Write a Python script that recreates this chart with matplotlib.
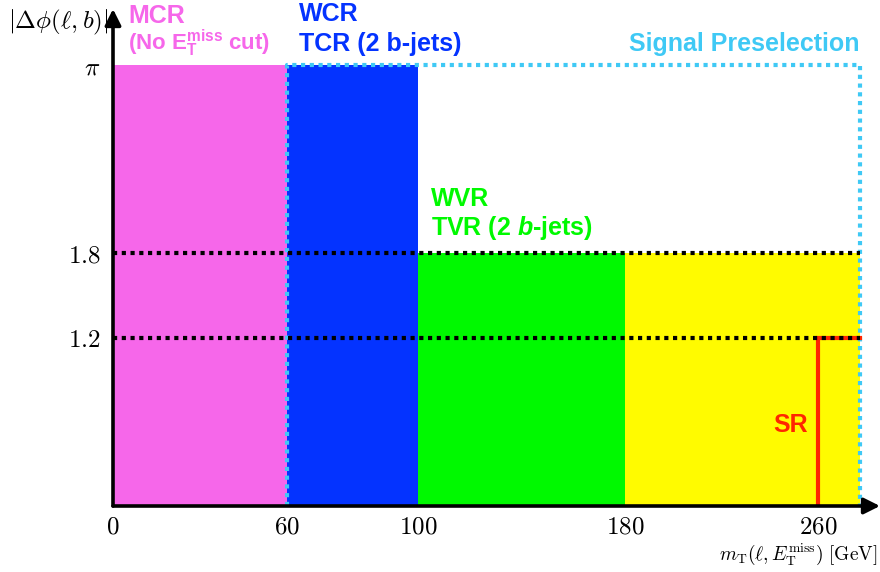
import numpy as np
import matplotlib
matplotlib.use("Agg")
import matplotlib.pyplot as plt

plt.rcParams['mathtext.fontset'] = 'cm'
plt.rcParams['mathtext.rm'] = 'Liberation Sans:bold'
plt.rcParams['mathtext.it'] = 'Liberation Sans:italic:bold'
plt.rcParams['mathtext.bf'] = 'Liberation Sans:bold'

# region boundaries in m_T [GeV] and |dphi| cut values
region_left = [0, 60, 100, 180]
region_right = [60, 100, 180, 277]
region_top = [np.pi, np.pi, 1.8, 1.8]
region_colors = ['#F667EA', '#0433FF', '#00F900', '#FFFB00']

x_ticks = [0, 60, 100, 180, 260]
x_ticklabels = ['$0$', '$60$', '$100$', '$180$', '$260$']
y_ticks = [1.2, 1.8, np.pi]
y_ticklabels = ['$1.2$', '$1.8$', r'$\pi$']

dphi_cuts = [1.2, 1.8]
sr_mt = 260
presel_mt = [60, 277]
x_max = 285
y_max = 3.54

# schematic (non-linear) x axis
knots = [-100, 0, 60, 100, 180, 260, 285, 500]
scaled = [-290, 0, 174, 305, 512, 705, 767, 1300]


def fwd(x):
    return np.interp(x, knots, scaled)


def inv(x):
    return np.interp(x, scaled, knots)


W, H = 880, 572
fig = plt.figure(figsize=(8.8, 5.72), dpi=100)
ax = fig.add_axes([113 / W, (H - 506) / H, (880 - 113) / W, (506 - 9) / H])
ax.set_xscale('function', functions=(fwd, inv))
ax.set_xlim(0, x_max)
ax.set_ylim(0, y_max)

for l, r, t, c in zip(region_left, region_right, region_top, region_colors):
    ax.bar(l, t, width=r - l, align='edge', color=c, linewidth=0, zorder=1)

cyan = '#3FC9F5'
dots = (0, (1, 1.1))
ax.plot([presel_mt[0], presel_mt[0], presel_mt[1], presel_mt[1]],
        [0, np.pi, np.pi, 0], color=cyan, lw=3, ls=dots, zorder=3)

red = '#FF2600'
ax.plot([sr_mt, sr_mt, presel_mt[1]], [0, dphi_cuts[0], dphi_cuts[0]],
        color=red, lw=3, zorder=3, solid_joinstyle='miter')

for yc in dphi_cuts:
    ax.plot([0, presel_mt[1]], [yc, yc], color='black', lw=3, ls=dots, zorder=4)

for s in ['top', 'right', 'left', 'bottom']:
    ax.spines[s].set_visible(False)
ax.annotate('', xy=(1, 0), xytext=(0, 0), xycoords='axes fraction',
            arrowprops=dict(arrowstyle='-|>', lw=2.6, color='black',
                            mutation_scale=24, shrinkA=0, shrinkB=0), zorder=5)
ax.annotate('', xy=(0, 1), xytext=(0, 0), xycoords='axes fraction',
            arrowprops=dict(arrowstyle='-|>', lw=2.6, color='black',
                            mutation_scale=24, shrinkA=0, shrinkB=0), zorder=5)

ax.set_xticks(x_ticks)
ax.set_xticklabels(x_ticklabels, fontsize=18)
ax.set_yticks(y_ticks)
ax.set_yticklabels(y_ticklabels, fontsize=18)
ax.tick_params(axis='both', length=0)
ax.tick_params(axis='x', pad=6)
ax.tick_params(axis='y', pad=9)
ax.xaxis.set_minor_locator(matplotlib.ticker.NullLocator())


def px(x, y):
    return x / W, 1 - y / H


fig.text(*px(58, 22), r'$|\Delta\phi(\ell, b)|$', fontsize=18, ha='center', va='center')
fig.text(*px(878, 554), r'$m_{\rm T}(\ell, E_{\rm T}^{\rm miss})\ [{\rm GeV}]$',
         fontsize=14, ha='right', va='center', math_fontfamily='cm')

sans = dict(family='Liberation Sans', weight='bold', math_fontfamily='custom')
fig.text(*px(128, 23), 'MCR', color=region_colors[0], fontsize=18, va='baseline', **sans)
fig.text(*px(128, 50), r'(No E$_\mathrm{T}^\mathrm{miss}$ cut)', color=region_colors[0],
         fontsize=16, va='baseline', **sans)
fig.text(*px(299, 21), 'WCR', color=region_colors[1], fontsize=18, va='baseline', **sans)
fig.text(*px(299, 51), 'TCR (2 b-jets)', color=region_colors[1], fontsize=18, va='baseline', **sans)
fig.text(*px(859, 51), 'Signal Preselection', color=cyan, fontsize=18, ha='right',
         va='baseline', **sans)
fig.text(*px(431, 206), 'WVR', color=region_colors[2], fontsize=18, va='baseline', **sans)
fig.text(*px(431, 235), r'TVR (2 $\mathit{b}$-jets)', color=region_colors[2], fontsize=18,
         va='baseline', **sans)
fig.text(*px(773, 432), 'SR', color=red, fontsize=18, va='baseline', **sans)

fig.savefig('out.png', dpi=100)
